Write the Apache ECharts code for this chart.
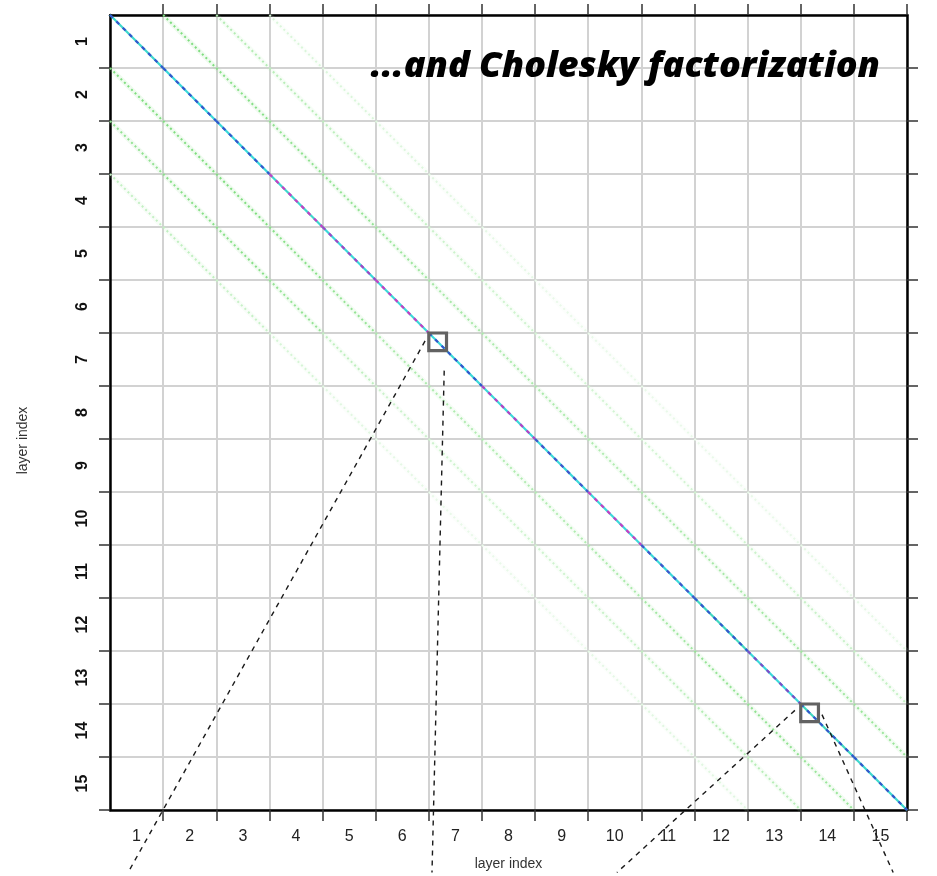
<!DOCTYPE html>
<html>
<head>
<meta charset="utf-8">
<script src="https://cdn.jsdelivr.net/npm/echarts@6/dist/echarts.min.js"></script>
<style>
  html, body { margin: 0; padding: 0; background: #ffffff; }
  #chart { width: 937px; height: 876px; }
</style>
</head>
<body>
<div id="chart"></div>
<script>
// Layer blocks of the factor (15 x 15 blocks)
const layers = ['1', '2', '3', '4', '5', '6', '7', '8', '9', '10', '11', '12', '13', '14', '15'];

// Main diagonal: underlying magnitude and the dominant entry magnitude of each block
const diagonalBase = [0.58, 0.6, 0.6, 0.58, 0.6, 0.6, 0.6, 0.6, 0.6, 0.6, 0.6, 0.56, 0.6, 0.56, 0.58];
const diagonal     = [0.8, 0.8, 0.8, 1.0, 0.95, 1.0, 0.8, 0.98, 0.82, 1.0, 0.82, 0.8, 0.9, 0.8, 0.8];

// Off-diagonal block bands (upper: column = row + k, lower: row = column + k)
const upper1 = [0.32, 0.3, 0.28, 0.27, 0.25, 0.23, 0.22, 0.22, 0.21, 0.22, 0.23, 0.24, 0.25, 0.26];
const upper2 = [0.2, 0.19, 0.18, 0.16, 0.14, 0.13, 0.12, 0.12, 0.12, 0.13, 0.14, 0.15, 0.16];
const upper3 = [0.1, 0.1, 0.09, 0.08, 0.07, 0.06, 0.06, 0.06, 0.06, 0.06, 0.07, 0.07];
const lower1 = [0.32, 0.32, 0.32, 0.3, 0.27, 0.22, 0.21, 0.21, 0.21, 0.22, 0.24, 0.27, 0.28, 0.26];
const lower2 = [0.28, 0.3, 0.3, 0.27, 0.17, 0.14, 0.13, 0.13, 0.13, 0.15, 0.17, 0.2, 0.19];
const lower3 = [0.16, 0.17, 0.15, 0.11, 0.08, 0.07, 0.06, 0.06, 0.06, 0.07, 0.08, 0.08];

// Enlarged sub-blocks (block boundary where each magnified window starts)
const zoomBlocks = [6, 13];
// Leader lines from the magnified windows: [x0, y0, x1, y1] in block units
const calloutLines = [
  [5.93, 6.15, 0.34, 16.18],
  [6.29, 6.71, 6.06, 16.18],
  [12.89, 13.12, 9.54, 16.18],
  [13.40, 13.20, 14.74, 16.18]
];

const titleText = '...and Cholesky factorization';
const axisTitle = 'layer index';

function bandItems(values, offset) {
  return values.map(function (v, i) {
    return offset >= 0 ? [i + offset, i, v] : [i, i - offset, v];
  });
}
const bandData = [].concat(
  bandItems(upper1, 1), bandItems(upper2, 2), bandItems(upper3, 3),
  bandItems(lower1, -1), bandItems(lower2, -2), bandItems(lower3, -3)
);
const diagBaseData = bandItems(diagonalBase, 0);
const diagData = bandItems(diagonal, 0);

function seg(api) {
  const c = api.value(0), r = api.value(1);
  const p0 = api.coord([c, r]);
  const p1 = api.coord([c + 1, r + 1]);
  return { x1: p0[0], y1: p0[1], x2: p1[0], y2: p1[1] };
}

const chart = echarts.init(document.getElementById('chart'), null, { renderer: 'canvas' });

const tickCommon = {
  show: true, inside: false, length: 11,
  lineStyle: { color: '#333', width: 1.5 },
  interval: function (i) { return i !== 0; }
};
const lineCommon = { show: true, onZero: false, lineStyle: { color: '#000', width: 2.5 } };

chart.setOption({
  animation: false,
  backgroundColor: '#ffffff',
  title: {
    text: titleText,
    right: 52,
    top: 44,
    textStyle: {
      fontFamily: 'Open Sans', fontStyle: 'italic', fontWeight: 800,
      fontSize: 36, color: '#000'
    }
  },
  grid: { left: 110, top: 15, width: 797, height: 798, containLabel: false },
  visualMap: {
    show: false,
    type: 'continuous',
    min: 0, max: 1,
    dimension: 2,
    seriesIndex: [0, 1, 2],
    inRange: { color: ['#ffffff', '#b4ecb4', '#5cd35c', '#3ad9d9', '#3356cc', '#c43fc4'] }
  },
  xAxis: [
    {
      type: 'category', position: 'bottom', data: layers, boundaryGap: true,
      axisLine: lineCommon, axisTick: tickCommon,
      axisLabel: { show: true, margin: 19, fontFamily: 'Liberation Sans', fontSize: 16, color: '#222' },
      splitLine: { show: true, lineStyle: { color: '#d2d2d2', width: 2 } },
      name: axisTitle, nameLocation: 'middle', nameGap: 47,
      nameTextStyle: { fontFamily: 'Liberation Sans', fontSize: 14, color: '#333' }
    },
    {
      type: 'category', position: 'top', data: layers, boundaryGap: true,
      axisLine: lineCommon, axisTick: tickCommon,
      axisLabel: { show: false }, splitLine: { show: false }
    },
    { type: 'value', min: 0, max: 15, show: false, position: 'bottom' }
  ],
  yAxis: [
    {
      type: 'category', position: 'left', data: layers, inverse: true, boundaryGap: true,
      axisLine: lineCommon, axisTick: tickCommon,
      axisLabel: { show: true, rotate: 90, margin: 19, fontFamily: 'Liberation Sans', fontWeight: 'bold', fontSize: 16, color: '#111' },
      splitLine: { show: true, lineStyle: { color: '#d2d2d2', width: 2 } },
      name: axisTitle, nameLocation: 'middle', nameGap: 80,
      nameTextStyle: { fontFamily: 'Liberation Sans', fontSize: 14, color: '#333', padding: [0, 56, 0, 0] }
    },
    {
      type: 'category', position: 'right', data: layers, inverse: true, boundaryGap: true,
      axisLine: lineCommon, axisTick: tickCommon,
      axisLabel: { show: false }, splitLine: { show: false }
    },
    { type: 'value', min: 0, max: 15, inverse: true, show: false, position: 'left' }
  ],
  series: [
    {
      // off-diagonal block bands
      type: 'custom', name: 'bands', xAxisIndex: 2, yAxisIndex: 2,
      encode: { x: 0, y: 1 }, data: bandData, z: 3,
      renderItem: function (params, api) {
        const shape = seg(api);
        const color = api.visual('color');
        return {
          type: 'group',
          children: [
            { type: 'line', shape: shape, style: { stroke: color, lineWidth: 5, opacity: 0.12 } },
            { type: 'line', shape: shape, style: { stroke: color, lineWidth: 2, lineDash: [2, 3] } }
          ]
        };
      }
    },
    {
      // diagonal blocks, underlying entries
      type: 'custom', name: 'diagonal base', xAxisIndex: 2, yAxisIndex: 2,
      encode: { x: 0, y: 1 }, data: diagBaseData, z: 4,
      renderItem: function (params, api) {
        return { type: 'line', shape: seg(api), style: { stroke: api.visual('color'), lineWidth: 2.2 } };
      }
    },
    {
      // diagonal blocks, dominant entries
      type: 'custom', name: 'diagonal', xAxisIndex: 2, yAxisIndex: 2,
      encode: { x: 0, y: 1 }, data: diagData, z: 5,
      renderItem: function (params, api) {
        return { type: 'line', shape: seg(api), style: { stroke: api.visual('color'), lineWidth: 2.2, lineDash: [4, 5] } };
      }
    },
    {
      // leader lines from the magnified windows
      type: 'custom', name: 'leaders', xAxisIndex: 2, yAxisIndex: 2,
      data: calloutLines, z: 8, clip: false, silent: true,
      encode: { x: [0, 2], y: [1, 3] },
      renderItem: function (params, api) {
        const p0 = api.coord([api.value(0), api.value(1)]);
        const p1 = api.coord([api.value(2), api.value(3)]);
        return {
          type: 'line',
          shape: { x1: p0[0], y1: p0[1], x2: p1[0], y2: p1[1] },
          style: { stroke: '#1a1a1a', lineWidth: 1.4, lineDash: [5, 5] }
        };
      }
    },
    {
      // magnified windows on the diagonal
      type: 'custom', name: 'windows', xAxisIndex: 2, yAxisIndex: 2,
      data: zoomBlocks.map(function (b) { return [b, b]; }), z: 9, silent: true,
      encode: { x: 0, y: 1 },
      renderItem: function (params, api) {
        const b = api.value(0);
        const p0 = api.coord([b, b]);
        const p1 = api.coord([b + 1 / 3, b + 1 / 3]);
        return {
          type: 'rect',
          shape: { x: p0[0], y: p0[1], width: p1[0] - p0[0], height: p1[1] - p0[1] },
          style: { fill: null, stroke: '#626262', lineWidth: 3.2 }
        };
      }
    }
  ]
});
</script>
</body>
</html>
